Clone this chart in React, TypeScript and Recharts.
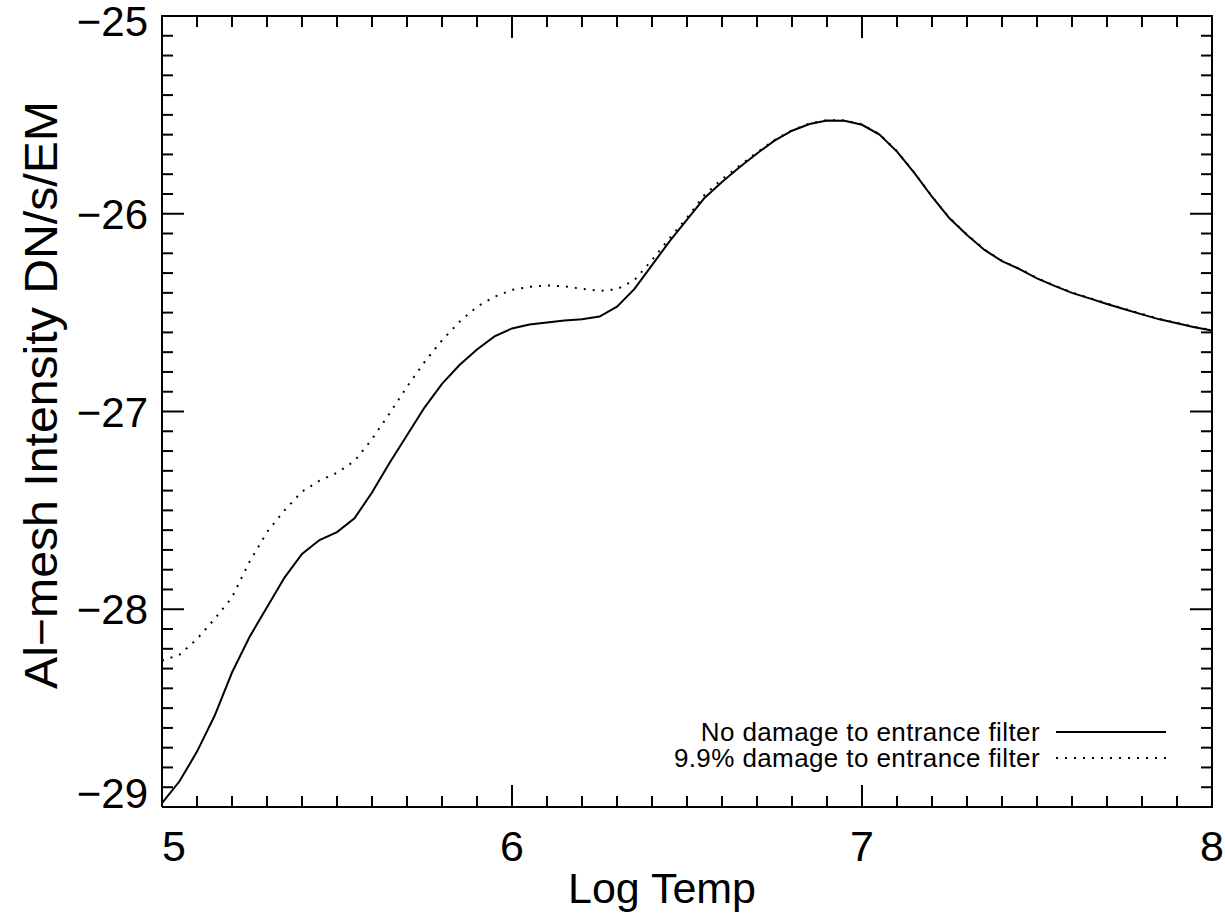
import React from 'react'
import { LineChart, Line, XAxis, YAxis, Legend } from 'recharts'

// log temperature grid
const logTemp = [
  5.0, 5.05, 5.1, 5.15, 5.2, 5.25, 5.3, 5.35, 5.4, 5.45,
  5.5, 5.55, 5.6, 5.65, 5.7, 5.75, 5.8, 5.85, 5.9, 5.95,
  6.0, 6.05, 6.1, 6.15, 6.2, 6.25, 6.3, 6.35, 6.4, 6.45,
  6.5, 6.55, 6.6, 6.65, 6.7, 6.75, 6.8, 6.85, 6.9, 6.95,
  7.0, 7.05, 7.1, 7.15, 7.2, 7.25, 7.3, 7.35, 7.4, 7.45,
  7.5, 7.55, 7.6, 7.65, 7.7, 7.75, 7.8, 7.85, 7.9, 7.95, 8.0,
]

const noDamage = [
  -28.98, -28.87, -28.72, -28.54, -28.32, -28.14, -27.99, -27.84, -27.72, -27.65,
  -27.61, -27.54, -27.41, -27.26, -27.12, -26.98, -26.86, -26.765, -26.686, -26.62,
  -26.58, -26.56, -26.55, -26.54, -26.534, -26.52, -26.47, -26.38, -26.26, -26.14,
  -26.03, -25.92, -25.84, -25.765, -25.695, -25.63, -25.58, -25.546, -25.528, -25.53,
  -25.55, -25.6, -25.686, -25.795, -25.914, -26.023, -26.107, -26.183, -26.24, -26.28,
  -26.327, -26.365, -26.4, -26.428, -26.456, -26.483, -26.509, -26.534, -26.554, -26.574, -26.59,
]

const damage99 = [
  -28.26, -28.23, -28.15, -28.05, -27.94, -27.76, -27.61, -27.5, -27.405, -27.35,
  -27.31, -27.25, -27.14, -27.01, -26.875, -26.75, -26.64, -26.546, -26.47, -26.42,
  -26.385, -26.37, -26.362, -26.367, -26.38, -26.39, -26.382, -26.335, -26.234, -26.124,
  -26.02, -25.905, -25.825, -25.757, -25.69, -25.627, -25.578, -25.544, -25.526, -25.528,
  -25.548, -25.598, -25.684, -25.793, -25.912, -26.021, -26.105, -26.181, -26.238, -26.278,
  -26.325, -26.363, -26.398, -26.426, -26.454, -26.481, -26.507, -26.532, -26.552, -26.572, -26.588,
]

const xTicks = [
  5, 5.1, 5.2, 5.3, 5.4, 5.5, 5.6, 5.7, 5.8, 5.9,
  6, 6.1, 6.2, 6.3, 6.4, 6.5, 6.6, 6.7, 6.8, 6.9,
  7, 7.1, 7.2, 7.3, 7.4, 7.5, 7.6, 7.7, 7.8, 7.9, 8,
]

const yTicks = [
  -29, -28.9, -28.8, -28.7, -28.6, -28.5, -28.4, -28.3, -28.2, -28.1,
  -28, -27.9, -27.8, -27.7, -27.6, -27.5, -27.4, -27.3, -27.2, -27.1,
  -27, -26.9, -26.8, -26.7, -26.6, -26.5, -26.4, -26.3, -26.2, -26.1,
  -26, -25.9, -25.8, -25.7, -25.6, -25.5, -25.4, -25.3, -25.2, -25.1, -25,
]

const seriesNames = ['No damage to entrance filter', '9.9% damage to entrance filter']

const data = logTemp.map((t, i) => ({ t, a: noDamage[i], b: damage99[i] }))

const FONT = "'Liberation Sans', Arial, Helvetica, sans-serif"
const W = 1225
const H = 913
const M = { top: 16, right: 13, left: 0, bottom: 0 }
const Y_AXIS_W = 162
const X_AXIS_H = 106
const X_DOMAIN = [5, 8]
const Y_DOMAIN = [-29, -25]
// plot box, used to mirror the ticks onto the top and right frame
const PLOT_L = M.left + Y_AXIS_W
const PLOT_T = M.top
const PLOT_W = W - M.right - PLOT_L
const PLOT_H = H - PLOT_T - X_AXIS_H
const MAJOR = 22
const MINOR = 11

const isMajor = (v: number) => Math.abs(v - Math.round(v)) < 1e-6
const minus = (v: number) => (v < 0 ? '\u2212' + Math.abs(v) : String(v))

function BottomTick(props: any) {
  const { x, y, payload, index } = props
  const v = payload.value
  const len = isMajor(v) ? MAJOR : MINOR
  const dx = index === 0 ? 12 : 0
  return (
    <g>
      <line x1={x} y1={y} x2={x} y2={y - len} stroke="#000" strokeWidth={2} />
      {isMajor(v) && (
        <text x={x + dx} y={y + 54} textAnchor="middle" fontSize={43} fontFamily={FONT} fill="#000">
          {v}
        </text>
      )}
    </g>
  )
}

function LeftTick(props: any) {
  const { x, y, payload, index } = props
  const v = payload.value
  const len = isMajor(v) ? MAJOR : MINOR
  let dy = 15
  if (index === yTicks.length - 1) dy = 20
  if (index === 0) dy = 1
  return (
    <g>
      <line x1={x} y1={y} x2={x + len} y2={y} stroke="#000" strokeWidth={2} />
      {isMajor(v) && (
        <text x={x - 14} y={y + dy} textAnchor="end" fontSize={42} fontFamily={FONT} fill="#000">
          {minus(Math.round(v))}
        </text>
      )}
    </g>
  )
}

// top and right edges of the box, with inward ticks mirrored from the axes
function FrameOverlay() {
  const sx = (v: number) => PLOT_L + ((v - X_DOMAIN[0]) / (X_DOMAIN[1] - X_DOMAIN[0])) * PLOT_W
  const sy = (v: number) => PLOT_T + ((Y_DOMAIN[1] - v) / (Y_DOMAIN[1] - Y_DOMAIN[0])) * PLOT_H
  const right = PLOT_L + PLOT_W
  return (
    <svg
      width={W}
      height={H}
      style={{ position: 'absolute', left: 0, top: 0, pointerEvents: 'none', zIndex: 5 }}
    >
      <line x1={PLOT_L - 1} y1={PLOT_T} x2={right + 1} y2={PLOT_T} stroke="#000" strokeWidth={2} />
      <line x1={right} y1={PLOT_T} x2={right} y2={PLOT_T + PLOT_H + 1} stroke="#000" strokeWidth={2} />
      {xTicks.map((v) => (
        <line
          key={'t' + v}
          x1={sx(v)}
          y1={PLOT_T}
          x2={sx(v)}
          y2={PLOT_T + (isMajor(v) ? MAJOR : MINOR)}
          stroke="#000"
          strokeWidth={2}
        />
      ))}
      {yTicks.map((v) => (
        <line
          key={'r' + v}
          x1={right}
          y1={sy(v)}
          x2={right - (isMajor(v) ? MAJOR : MINOR)}
          y2={sy(v)}
          stroke="#000"
          strokeWidth={2}
        />
      ))}
    </svg>
  )
}

function XTitle() {
  return (
    <text x={662} y={903} textAnchor="middle" fontSize={43} fontFamily={FONT} fill="#000">
      Log Temp
    </text>
  )
}

function YTitle() {
  return (
    <text
      x={57}
      y={395}
      transform="rotate(-90 57 395)"
      textAnchor="middle"
      fontSize={46}
      fontFamily={FONT}
      fill="#000"
      textLength={588}
      lengthAdjust="spacingAndGlyphs"
    >
      Al{'\u2212'}mesh Intensity DN/s/EM
    </text>
  )
}

function LegendBox() {
  const row = (name: string, dash?: string) => (
    <div key={name} style={{ display: 'flex', alignItems: 'center', justifyContent: 'flex-end', height: 26 }}>
      <span style={{ fontSize: 26, lineHeight: '26px', letterSpacing: 0.4, fontFamily: FONT, color: '#000' }}>
        {name}
      </span>
      <svg width={126} height={10} style={{ marginLeft: 16 }}>
        <line x1={0} y1={5} x2={110} y2={5} stroke="#000" strokeWidth={2} strokeDasharray={dash} />
      </svg>
    </div>
  )
  return (
    <div>
      {row(seriesNames[0])}
      {row(seriesNames[1], '2 7')}
    </div>
  )
}

export default function App() {
  return (
    <div style={{ position: 'absolute', left: 0, top: 0, width: W, height: H, background: '#fff' }}>
      <LineChart width={W} height={H} data={data} margin={M}>
        <XAxis
          dataKey="t"
          type="number"
          domain={X_DOMAIN}
          ticks={xTicks}
          interval={0}
          height={X_AXIS_H}
          tickSize={0}
          tickMargin={0}
          tickLine={false}
          axisLine={{ stroke: '#000', strokeWidth: 2 }}
          tick={<BottomTick />}
          label={{ content: <XTitle /> }}
        />
        <YAxis
          type="number"
          domain={Y_DOMAIN}
          ticks={yTicks}
          interval={0}
          width={Y_AXIS_W}
          tickSize={0}
          tickMargin={0}
          tickLine={false}
          axisLine={{ stroke: '#000', strokeWidth: 2 }}
          tick={<LeftTick />}
          label={{ content: <YTitle /> }}
        />
        <Legend
          verticalAlign="middle"
          layout="horizontal"
          content={<LegendBox />}
          wrapperStyle={{ position: 'absolute', left: 560, top: 719, width: 622 }}
        />
        <Line
          dataKey="a"
          name={seriesNames[0]}
          stroke="#000"
          strokeWidth={2}
          dot={false}
          type="linear"
          isAnimationActive={false}
        />
        <Line
          dataKey="b"
          name={seriesNames[1]}
          stroke="#000"
          strokeWidth={2}
          strokeDasharray="2 7"
          dot={false}
          type="linear"
          isAnimationActive={false}
        />
      </LineChart>
      <FrameOverlay />
    </div>
  )
}
